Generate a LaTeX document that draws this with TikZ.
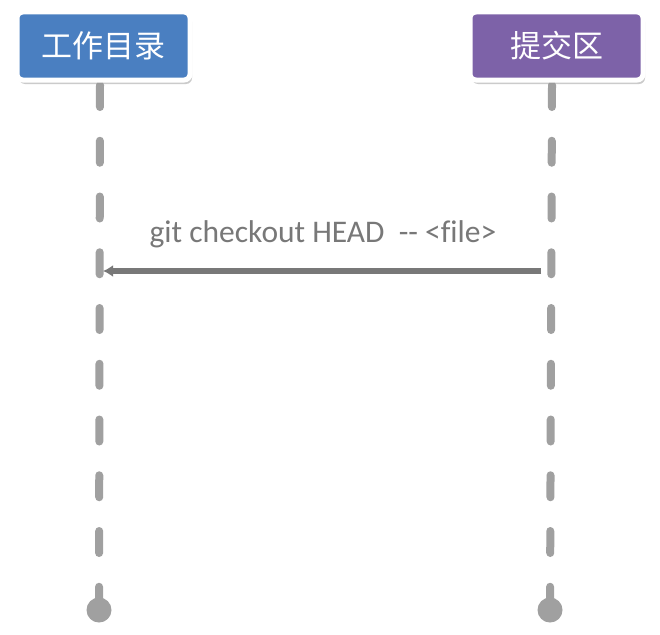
\documentclass[tikz,border=0pt]{standalone}
\usepackage{fontspec}
\setmainfont{Carlito}[Ligatures={NoCommon}]
\newfontfamily\cjk{Noto Sans CJK SC}
\usetikzlibrary{shadows,arrows.meta}

\definecolor{areablue}{RGB}{74,127,193}
\definecolor{areapurple}{RGB}{125,98,168}
\definecolor{lifegray}{RGB}{160,160,160}
\definecolor{msggray}{RGB}{120,120,120}

\tikzset{
  areabox/.style={draw=white, line width=5, rounded corners=6, minimum width=173, minimum height=68,
    text=white, font=\cjk\fontsize{31pt}{31pt}\selectfont,
    drop shadow={shadow xshift=2pt, shadow yshift=-4pt, fill=black!40, opacity=0.5}},
  lifeline/.style={line width=8, lifegray, line cap=round, dash pattern=on 22 off 33.75},
  enddot/.style={circle, fill=lifegray, inner sep=0, minimum size=25},
  msgline/.style={line width=5.5, msggray, -{Latex[length=10,width=12]}}
}

\begin{document}
\begin{tikzpicture}[x=1pt,y=-1pt]
  \useasboundingbox[fill=white] (0,0) rectangle (660,634);
  % lifeline left
  \coordinate (wdtop) at (100,85);
  \node [enddot] (wddot) at (99,610) {};
  \draw [lifeline] (wdtop) -- (wddot.center);
  % lifeline right
  \coordinate (tjtop) at (552,85);
  \node [enddot] (tjdot) at (550,610) {};
  \draw [lifeline] (tjtop) -- (tjdot.center);
  % left box
  \node [areabox, fill=areablue] (wd) at (103.5,46) {工作目录};
  % right box
  \node [areabox, fill=areapurple] (tj) at (556.5,46) {提交区};
  % message
  \coordinate (tjmsg) at (541,271);
  \coordinate (wdmsg) at (103,271);
  \draw [msgline] (tjmsg) -- (wdmsg);
  \node [text=msggray, font=\fontsize{31.5pt}{31.5pt}\selectfont] (msg) at (323,234) {git checkout HEAD\ \ -{}- <file>};
\end{tikzpicture}
\end{document}
